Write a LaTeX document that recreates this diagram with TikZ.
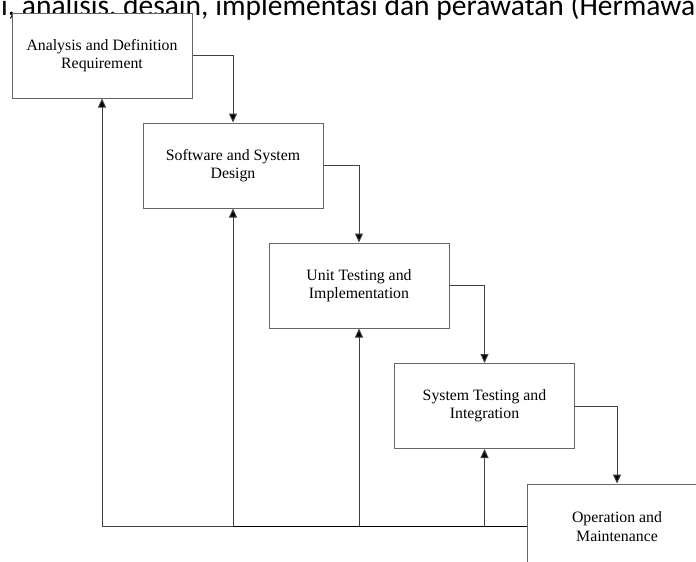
\documentclass[tikz,border=0pt]{standalone}
\usepackage{fontspec}
\setmainfont{Liberation Serif}
\newfontfamily\headfont{Carlito}
\usepackage{tikz}
\usetikzlibrary{arrows.meta, positioning, calc}
\tikzstyle{arrow} = [line width=1pt, draw=black!75, -{Triangle[length=9pt, width=8pt, fill=black]}]

\begin{document}
\begin{tikzpicture}[x=1pt, y=-1pt,
		box/.style={rectangle, draw=black!60, line width=1pt, fill=white, minimum width=180pt, minimum height=85pt, inner sep=0pt, align=center, font=\fontsize{15.8}{18.3}\selectfont},
		line/.style={line width=1pt, draw=black!70}]
	\useasboundingbox (0,0) rectangle (696,562);
	\clip (0,0) rectangle (696,562);
	\fill[white] (0,0) rectangle (696,562);

	% heading line of the page, cut by the frame
	\node (heading) [anchor=base west, inner sep=0pt, font=\headfont\fontsize{29.5}{34}\selectfont] at (1,15) {i, analisis, desain, implementasi dan perawatan (Hermawan};

	\node (analysis) [box] at (102,55.5) {Analysis and Definition \\ Requirement};
	\node (design) [box] at (233,165.5) {Software and System \\ Design};
	\node (unit) [box] at (359,285.5) {Unit Testing and \\ Implementation};
	\node (integration) [box] at (484.5,406) {System Testing and \\ Integration};
	\node (operation) [box] at (617,526.5) {Operation and \\ Maintenance};

	% forward flow
	\draw[arrow] (analysis.east) -| (design.north);
	\draw[arrow] (design.east) -| (unit.north);
	\draw[arrow] (unit.east) -| (integration.north);
	\draw[arrow] (integration.east) -| (operation.north);

	% feedback
	\draw[arrow] (operation.west) -| (analysis.south);
	\draw[arrow] (design.south |- operation.west) -- (design.south);
	\draw[arrow] (unit.south |- operation.west) -- (unit.south);
	\draw[arrow] (integration.south |- operation.west) -- (integration.south);
	\draw[line, black, line width=1.4pt] (design.south |- operation.west) -- (operation.west);
\end{tikzpicture}
\end{document}
